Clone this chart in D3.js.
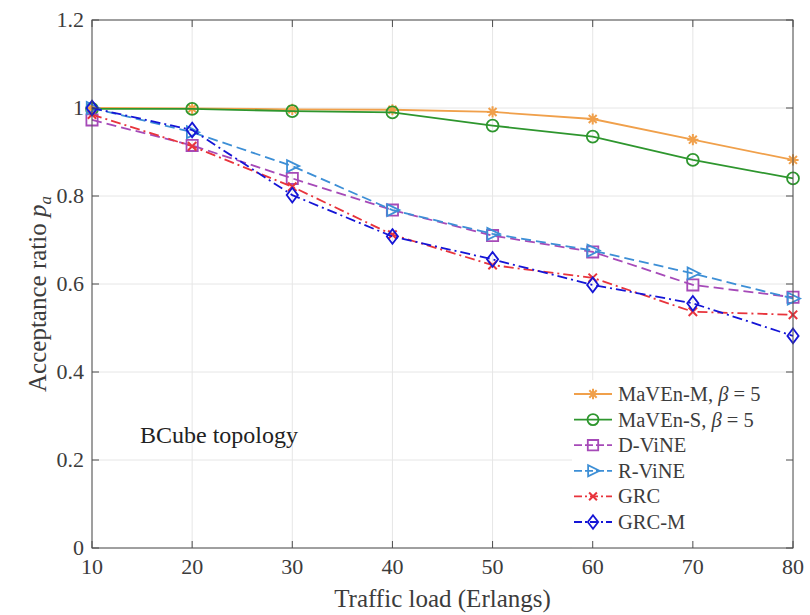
<!DOCTYPE html>
<html>
<head>
<meta charset="utf-8">
<script src="https://cdn.jsdelivr.net/npm/d3@7"></script>
<style>
  html, body { margin: 0; padding: 0; background: #fff; }
  svg { display: block; font-family: "Liberation Serif", "DejaVu Serif", serif; }
</style>
</head>
<body>
<svg id="chart" width="810" height="615"></svg>
<script>
// Traffic load (Erlangs)
const loads = [10, 20, 30, 40, 50, 60, 70, 80];

// Acceptance ratio per algorithm
const mavenM = [1.000, 0.999, 0.997, 0.996, 0.991, 0.975, 0.928, 0.882];
const mavenS = [0.998, 0.998, 0.993, 0.990, 0.960, 0.935, 0.882, 0.840];
const dVine  = [0.973, 0.915, 0.840, 0.768, 0.710, 0.673, 0.598, 0.570];
const rVine  = [1.000, 0.945, 0.868, 0.768, 0.714, 0.676, 0.624, 0.567];
const grc    = [0.985, 0.913, 0.821, 0.712, 0.643, 0.614, 0.537, 0.530];
const grcM   = [1.000, 0.950, 0.802, 0.708, 0.656, 0.598, 0.556, 0.482];

const xTicks = [10, 20, 30, 40, 50, 60, 70, 80];
const yTicks = [0, 0.2, 0.4, 0.6, 0.8, 1, 1.2];

const seriesNames = ["MaVEn-M", "MaVEn-S", "D-ViNE", "R-ViNE", "GRC", "GRC-M"];
const seriesValues = [mavenM, mavenS, dVine, rVine, grc, grcM];

const styles = [
  { color: "#f0a04b", dash: null,          marker: "star" },
  { color: "#2e962e", dash: null,          marker: "circle" },
  { color: "#a64ab8", dash: "10,5",        marker: "square" },
  { color: "#3d8fd6", dash: "10,5",        marker: "triright" },
  { color: "#e8343c", dash: "10,4,2,4",    marker: "cross" },
  { color: "#1515d6", dash: "10,4,2,4",    marker: "diamond" }
];

const svg = d3.select("#chart");
const plotL = 92, plotR = 793, plotT = 20, plotB = 548;

const x = d3.scaleLinear().domain([10, 80]).range([plotL, plotR]);
const y = d3.scaleLinear().domain([0, 1.2]).range([plotB, plotT]);

// grid
const grid = svg.append("g");
grid.selectAll("line.vg").data(xTicks).join("line")
  .attr("x1", d => x(d)).attr("x2", d => x(d))
  .attr("y1", plotT).attr("y2", plotB)
  .attr("stroke", "#e6e6e6").attr("stroke-width", 1);
grid.selectAll("line.hg").data(yTicks).join("line")
  .attr("y1", d => y(d)).attr("y2", d => y(d))
  .attr("x1", plotL).attr("x2", plotR)
  .attr("stroke", "#e6e6e6").attr("stroke-width", 1);

// marker shapes
function markerPath(kind, size) {
  const s = size / 2;
  switch (kind) {
    case "square":
      return `M${-s * 0.8},${-s * 0.8}H${s * 0.8}V${s * 0.8}H${-s * 0.8}Z`;
    case "diamond":
      return `M0,${-s * 1.05}L${s * 0.8},0L0,${s * 1.05}L${-s * 0.8},0Z`;
    case "triright":
      return `M${s},0L${-s * 0.75},${-s * 0.85}L${-s * 0.75},${s * 0.85}Z`;
    case "cross":
      return `M${-s * 0.6},${-s * 0.6}L${s * 0.6},${s * 0.6}M${-s * 0.6},${s * 0.6}L${s * 0.6},${-s * 0.6}`;
    case "star": {
      const r = s * 0.8;
      let p = "";
      for (let k = 0; k < 4; k++) {
        const a = k * Math.PI / 4;
        p += `M${-r * Math.cos(a)},${-r * Math.sin(a)}L${r * Math.cos(a)},${r * Math.sin(a)}`;
      }
      return p;
    }
    default:
      return null;
  }
}

function drawMarker(g, kind, color, cx, cy, size) {
  if (kind === "circle") {
    g.append("circle").attr("cx", cx).attr("cy", cy).attr("r", size / 2 * 0.85)
      .attr("fill", "none").attr("stroke", color).attr("stroke-width", 1.8);
  } else {
    g.append("path").attr("d", markerPath(kind, size))
      .attr("transform", `translate(${cx},${cy})`)
      .attr("fill", "none").attr("stroke", color)
      .attr("stroke-width", kind === "star" || kind === "cross" ? 2 : 1.8)
      .attr("stroke-linejoin", "miter");
  }
}

// series lines and markers
const line = d3.line().x((d, i) => x(loads[i])).y(d => y(d));
const plot = svg.append("g");
seriesValues.forEach((vals, si) => {
  const st = styles[si];
  plot.append("path").datum(vals)
    .attr("d", line)
    .attr("fill", "none")
    .attr("stroke", st.color)
    .attr("stroke-width", 1.8)
    .attr("stroke-dasharray", st.dash);
  const mg = plot.append("g");
  vals.forEach((v, i) => drawMarker(mg, st.marker, st.color, x(loads[i]), y(v), 14));
});

// annotation
svg.append("text")
  .attr("x", 140).attr("y", 443)
  .attr("font-size", 24).attr("fill", "#222")
  .text("BCube topology");

// legend
const labelColor = "#3c3c3c";
const legendLabels = [
  ["MaVEn-M, ", "β", " = 5"],
  ["MaVEn-S, ", "β", " = 5"],
  ["D-ViNE"], ["R-ViNE"], ["GRC"], ["GRC-M"]
];
const lg = svg.append("g");
const lgLeft = 572, lgTop = 380;
lg.append("rect").attr("x", lgLeft).attr("y", lgTop)
  .attr("width", plotR - lgLeft - 0.5).attr("height", plotB - lgTop - 0.5)
  .attr("fill", "#fff");
const rowY = i => 394 + i * 25.6;
seriesNames.forEach((name, i) => {
  const st = styles[i];
  const cy = rowY(i);
  lg.append("line").attr("x1", 574).attr("x2", 612).attr("y1", cy).attr("y2", cy)
    .attr("stroke", st.color).attr("stroke-width", 1.8)
    .attr("stroke-dasharray", st.dash ? (st.dash.split(",").length > 2 ? "8,3,2,3" : "8,3") : null);
  drawMarker(lg, st.marker, st.color, 593, cy, 13);
  const t = lg.append("text").attr("x", 618).attr("y", cy + 7)
    .attr("font-size", 20.5).attr("fill", labelColor);
  const parts = legendLabels[i];
  t.append("tspan").text(parts[0]);
  if (parts.length > 1) {
    t.append("tspan").attr("font-style", "italic").text(parts[1]);
    t.append("tspan").text(parts[2]);
  }
});

// axes box with inward ticks on all sides
const axisColor = "#4d4d4d";
const tickLen = 7;
const box = svg.append("g");
box.append("rect").attr("x", plotL).attr("y", plotT)
  .attr("width", plotR - plotL).attr("height", plotB - plotT)
  .attr("fill", "none").attr("stroke", axisColor).attr("stroke-width", 1);
xTicks.forEach(t => {
  box.append("line").attr("x1", x(t)).attr("x2", x(t)).attr("y1", plotB).attr("y2", plotB - tickLen)
    .attr("stroke", axisColor);
  box.append("line").attr("x1", x(t)).attr("x2", x(t)).attr("y1", plotT).attr("y2", plotT + tickLen)
    .attr("stroke", axisColor);
});
yTicks.forEach(t => {
  box.append("line").attr("y1", y(t)).attr("y2", y(t)).attr("x1", plotL).attr("x2", plotL + tickLen)
    .attr("stroke", axisColor);
  box.append("line").attr("y1", y(t)).attr("y2", y(t)).attr("x1", plotR).attr("x2", plotR - tickLen)
    .attr("stroke", axisColor);
});

// tick labels
svg.append("g").selectAll("text").data(xTicks).join("text")
  .attr("x", d => x(d)).attr("y", plotB + 26)
  .attr("text-anchor", "middle")
  .attr("font-size", 22).attr("fill", labelColor)
  .text(d => d);
svg.append("g").selectAll("text").data(yTicks).join("text")
  .attr("x", plotL - 8).attr("y", d => y(d) + 7)
  .attr("text-anchor", "end")
  .attr("font-size", 22).attr("fill", labelColor)
  .text(d => d === 0 ? "0" : (d === 1 ? "1" : d.toFixed(1)));

// axis titles
svg.append("text")
  .attr("x", (plotL + plotR) / 2).attr("y", 607)
  .attr("text-anchor", "middle").attr("font-size", 25).attr("fill", labelColor)
  .text("Traffic load (Erlangs)");

const yTitle = svg.append("text")
  .attr("transform", `translate(46,${(plotT + plotB) / 2 + 10}) rotate(-90)`)
  .attr("text-anchor", "middle").attr("font-size", 25).attr("fill", labelColor);
yTitle.append("tspan").text("Acceptance ratio ");
yTitle.append("tspan").attr("font-style", "italic").text("p");
yTitle.append("tspan").attr("font-style", "italic").attr("font-size", 17).attr("dy", 5).text("a");
</script>
</body>
</html>
